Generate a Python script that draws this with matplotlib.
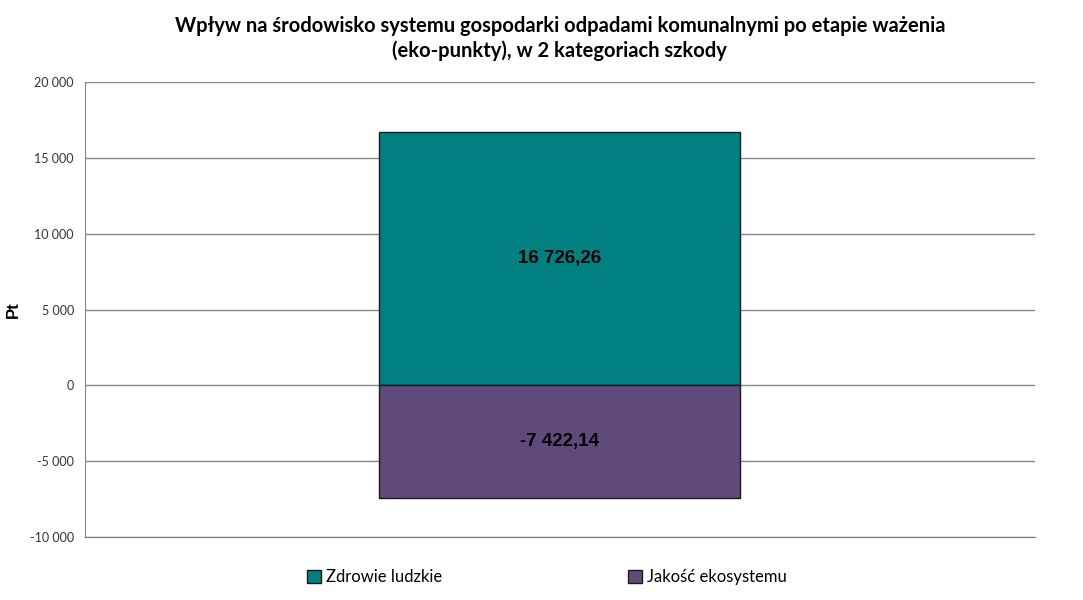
import matplotlib.pyplot as plt
from matplotlib.ticker import FuncFormatter
from matplotlib.patches import Patch

plt.rcParams["font.family"] = ["Lato", "DejaVu Sans"]

category = ['']
series = ['Zdrowie ludzkie', 'Jakość ekosystemu']
values = [16726.26, -7422.14]
colors = ['#008080', '#604A7B']
yticks = [-10000, -5000, 0, 5000, 10000, 15000, 20000]


def pl_fmt(v, dec=0):
    s = f"{abs(v):,.{dec}f}".replace(',', ' ').replace('.', ',')
    return ('-' if v < 0 else '') + s


fig = plt.figure(figsize=(10.83, 6), dpi=100)
ax = fig.add_axes([0.0785, 0.105, 0.877, 0.758])

for v, c in zip(values, colors):
    ax.bar(category, [v], width=0.38, color=c, edgecolor='#1a1a1a', linewidth=1, zorder=3)
    ax.text(0, v / 2, pl_fmt(v, 2), ha='center', va='center', family='Liberation Sans',
            fontsize=13.5, fontweight='bold', color='black', zorder=4)

ax.set_xlim(-0.5, 0.5)
ax.set_ylim(-10000, 20000)
ax.set_yticks(yticks)
ax.yaxis.set_major_formatter(FuncFormatter(lambda v, p: pl_fmt(v)))
ax.tick_params(axis='y', length=0, labelsize=9, colors='#333333', pad=8)
ax.tick_params(axis='x', length=0, labelbottom=False)
ax.grid(axis='y', color='#888888', linewidth=1, zorder=0)
for s in ['top', 'right']:
    ax.spines[s].set_visible(False)
ax.spines['left'].set_color('#888888')
ax.spines['bottom'].set_color('#777777')
ax.set_ylabel('Pt', fontsize=12, fontweight='bold', family='Liberation Sans')
ax.yaxis.set_label_coords(-0.068, 0.5)

ax.set_title('Wpływ na środowisko systemu gospodarki odpadami komunalnymi po etapie ważenia\n'
             '(eko-punkty), w 2 kategoriach szkody',
             fontsize=14.5, fontweight='bold', pad=18, linespacing=1.3)

handles = [Patch(facecolor=c, edgecolor='#1a1a1a') for c in colors]
fig.legend(handles, series, loc='center', bbox_to_anchor=(0.505, 0.038), ncol=2,
           frameon=False, fontsize=12, handlelength=0.8, handleheight=0.8,
           handletextpad=0.3, columnspacing=11.2)

plt.savefig('out.png')
